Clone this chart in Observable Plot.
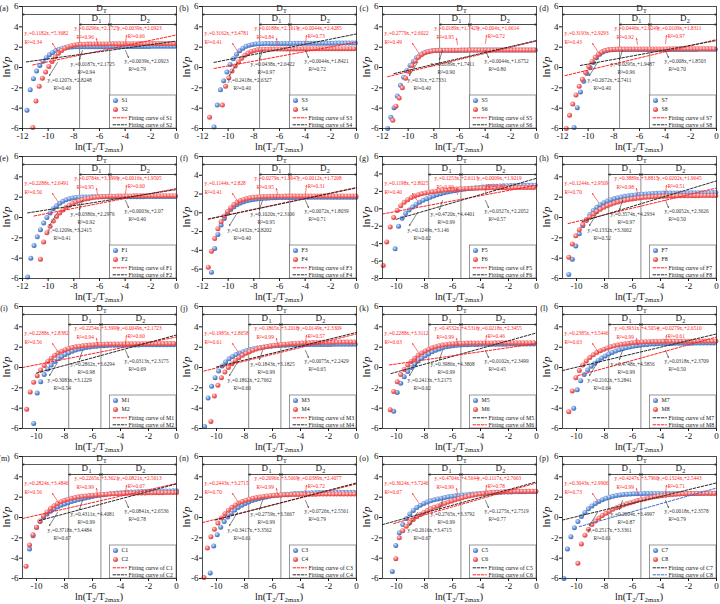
<!DOCTYPE html>
<html><head><meta charset="utf-8">
<script src="https://cdn.jsdelivr.net/npm/d3@7"></script>
<script src="https://cdn.jsdelivr.net/npm/@observablehq/plot@0.6"></script>
<style>
body{margin:0;background:#fff;}
#root{position:relative;width:720px;height:604px;overflow:hidden;background:#fff;}
.panel{position:absolute;}
.panel svg{overflow:visible;display:block;}
</style></head><body>
<svg width="0" height="0" style="position:absolute">
<defs>
<radialGradient id="gBlue" cx="0.38" cy="0.35" r="0.7"><stop offset="0" stop-color="#dbe7fb"/><stop offset="0.5" stop-color="#6b97dc"/><stop offset="1" stop-color="#3a67b3"/></radialGradient>
<radialGradient id="gRed" cx="0.38" cy="0.35" r="0.7"><stop offset="0" stop-color="#ffe0e0"/><stop offset="0.5" stop-color="#f46a6a"/><stop offset="1" stop-color="#d93b3b"/></radialGradient>
</defs></svg>
<div id="root"></div>
<script>
// ---------------- data ----------------
const panelLetters = ["a","b","c","d","e","f","g","h","i","j","k","l","m","n","o","p"];
const panelSamples = [["S1","S2"],["S3","S4"],["S5","S6"],["S7","S8"],["F1","F2"],["F3","F4"],["F5","F6"],["F7","F8"],
                      ["M1","M2"],["M3","M4"],["M5","M6"],["M7","M8"],["C1","C2"],["C3","C4"],["C5","C6"],["C7","C8"]];
const xDomains = [[-12,0],[-12,0],[-12,0],[-12,0],[-12,0],[-12,0],[-11,0],[-11,0],
                  [-11,0],[-11,0],[-11,0],[-11,0],[-11,0],[-11,0],[-11,0],[-11,0]];
const yDomains = [[-6,6],[-6,6],[-6,6],[-6,6],[-6,6],[-7,6],[-8,6],[-6,6],
                  [-6,6],[-6,6],[-6,6],[-6,6],[-6,6],[-6,6],[-6,6],[-6,6]];
const xTicks12 = [-12,-10,-8,-6,-4,-2,0];
const xTicks11 = [-10,-8,-6,-4,-2,0];
const yTicks6 = [-6,-4,-2,0,2,4,6];
const yTicks8 = [-8,-6,-4,-2,0,2,4,6];
// boundaries of D1 / D2 (ln T2 ratio)
const dBounds = [[-7.55,-5.2],[-7.55,-5.2],[-7.55,-5.2],[-7.55,-5.2],[-7.55,-5.2],[-7.55,-5.2],[-7.7,-5.4],[-7.7,-5.4],
                 [-7.7,-5.4],[-7.7,-5.4],[-7.7,-5.4],[-7.7,-5.4],[-7.7,-5.4],[-7.7,-5.4],[-7.7,-5.4],[-7.7,-5.4]];

const gridStep = 0.25; // spacing of the T2 bins on the ln axis
const sampleNames  = ["S1","S2","S3","S4","S5","S6","S7","S8","F1","F2","F3","F4","F5","F6","F7","F8",
                      "M1","M2","M3","M4","M5","M6","M7","M8","C1","C2","C3","C4","C5","C6","C7","C8"];
const sampleStartX = [-11.65,-11.2,-11.1,-11.45,-11.6,-11.2,-11.1,-11.7,-11.6,-10.6,-11.3,-11.55,-10.1,-10.95,-10.55,-10.55,
                      -10.2,-10.7,-10.85,-10.4,-10.2,-10.45,-10.2,-10.55,-10.5,-10.75,-10.45,-10.9,-10.3,-10.05,-10.9,-9.9];

const S1 = [-4.2,-2.2,-1.1,-0.35,0.2,0.62,0.97,1.25,1.48,1.66,1.8,1.9,1.96,2.0,2.02,
  2.03,2.03,2.04,2.04,2.04,2.05,2.05,2.05,2.05,2.05,2.06,2.06,2.06,2.06,2.06,2.06,2.07,2.07,2.07,2.07,2.07,2.07,2.07,2.07,2.08,2.08,2.08,2.08,2.08,2.08,2.08,2.08];
const S2 = [-5.9,-3.3,-1.85,-1.05,-0.45,0.1,0.6,1.05,1.4,1.68,1.9,2.05,2.15,2.22,2.26,
  2.28,2.29,2.3,2.3,2.31,2.31,2.32,2.32,2.32,2.33,2.33,2.33,2.33,2.34,2.34,2.34,2.34,2.34,2.35,2.35,2.35,2.35,2.35,2.35,2.36,2.36,2.36,2.36,2.36,2.36];
const S3 = [-5.85,-3.7,-2.2,-1.3,-0.45,0.3,0.85,1.3,1.65,1.9,2.08,2.2,2.27,2.31,
  2.33,2.34,2.35,2.35,2.36,2.36,2.36,2.37,2.37,2.37,2.37,2.38,2.38,2.38,2.38,2.38,2.38,2.39,2.39,2.39,2.39,2.39,2.39,2.39,2.4,2.4,2.4,2.4,2.4,2.4,2.4];
const S4 = [-4.9,null,null,null,-3.7,-1.85,-1.0,-0.35,0.15,0.55,0.9,1.2,1.42,1.58,1.68,1.74,1.78,
  1.8,1.8,1.81,1.81,1.82,1.82,1.82,1.83,1.83,1.83,1.83,1.83,1.84,1.84,1.84,1.84,1.84,1.84,1.84,1.85,1.85,1.85,1.85,1.85,1.85,1.85,1.85,1.85,1.85];
const S5 = [-6.0,-4.9,-3.95,-2.8,-1.75,-0.95,-0.3,0.2,0.6,0.95,1.2,1.4,1.52,1.6,1.65,1.68,
  1.69,1.69,1.7,1.7,1.7,1.7,1.7,1.71,1.71,1.71,1.71,1.71,1.71,1.71,1.71,1.71,1.71,1.72,1.72,1.72,1.72,1.72,1.72,1.72,1.72,1.72,1.72,1.72,1.72,1.72,1.72];
const S6 = [-5.2,-3.8,-3.0,-2.0,-1.05,-0.4,0.2,0.65,1.0,1.28,1.45,1.56,1.62,1.66,1.68,
  1.69,1.69,1.69,1.7,1.7,1.7,1.7,1.7,1.7,1.71,1.71,1.71,1.71,1.71,1.71,1.71,1.71,1.71,1.71,1.71,1.72,1.72,1.72,1.72,1.72,1.72,1.72,1.72,1.72,1.72];
const S7 = [-5.9,-3.95,-2.4,-1.35,-0.6,0.0,0.5,0.95,1.3,1.52,1.65,1.72,1.75,
  1.76,1.76,1.76,1.77,1.77,1.77,1.77,1.77,1.77,1.77,1.78,1.78,1.78,1.78,1.78,1.78,1.78,1.78,1.78,1.78,1.78,1.78,1.78,1.78,1.78,1.78,1.79,1.79,1.79,1.79,1.79,1.79];
const S8 = [-6.0,-4.7,-3.6,-2.7,-1.85,-1.15,-0.5,0.1,0.6,1.0,1.3,1.52,1.66,1.74,1.78,1.8,
  1.81,1.81,1.81,1.82,1.82,1.82,1.82,1.82,1.83,1.83,1.83,1.83,1.83,1.83,1.83,1.83,1.84,1.84,1.84,1.84,1.84,1.84,1.84,1.84,1.84,1.84,1.84,1.84,1.84,1.84,1.84];
const F1 = [-5.85,-4.0,-2.75,-1.9,-1.2,-0.55,0.0,0.45,0.85,1.15,1.4,1.6,1.75,1.85,1.92,1.97,2.0,
  2.01,2.02,2.02,2.03,2.03,2.03,2.04,2.04,2.04,2.04,2.04,2.05,2.05,2.05,2.05,2.05,2.05,2.05,2.05,2.05,2.06,2.06,2.06,2.06,2.06,2.06,2.06,2.06,2.06,2.06];
const F2 = [-4.1,-2.4,-1.5,-0.85,-0.35,0.1,0.45,0.75,1.0,1.2,1.38,1.52,1.64,1.74,1.82,1.88,1.94,1.98,2.02,2.05,2.07,2.09,
  2.1,2.1,2.11,2.11,2.12,2.12,2.12,2.13,2.13,2.13,2.13,2.14,2.14,2.14,2.14,2.14,2.15,2.15,2.15,2.15,2.15];
const F3 = [-6.33,-3.8,-2.3,-1.3,-0.6,-0.05,0.35,0.65,0.88,1.05,1.18,1.28,1.36,1.42,1.47,1.51,1.54,1.56,1.58,1.6,1.61,1.62,1.63,
  1.63,1.64,1.64,1.64,1.65,1.65,1.65,1.65,1.66,1.66,1.66,1.66,1.66,1.66,1.66,1.67,1.67,1.67,1.67,1.67,1.67,1.67,1.67];
const F4 = [-5.8,-4.1,-2.75,-1.7,-0.95,-0.35,0.15,0.55,0.88,1.12,1.3,1.43,1.53,1.6,1.65,1.69,1.72,1.74,
  1.75,1.76,1.76,1.77,1.77,1.77,1.78,1.78,1.78,1.78,1.78,1.79,1.79,1.79,1.79,1.79,1.79,1.79,1.8,1.8,1.8,1.8,1.8,1.8,1.8,1.8,1.8,1.8,1.8];
const F5 = [-4.6,-2.0,-1.1,-0.55,-0.15,0.2,0.5,0.75,0.97,1.16,1.33,1.48,1.61,1.73,1.84,1.93,2.01,2.08,2.15,2.21,2.27,2.32,2.37,2.41,2.45,
  2.49,2.52,2.55,2.58,2.6,2.62,2.64,2.65,2.66,2.67,2.68,2.69,2.69,2.7,2.7,2.7];
const F6 = [-6.5,-3.8,-2.1,-1.0,-0.2,0.35,0.75,1.05,1.3,1.48,1.62,1.73,1.82,1.9,1.96,2.02,2.07,2.12,2.16,2.2,2.23,2.26,2.29,2.31,2.33,
  2.35,2.36,2.37,2.38,2.39,2.4,2.4,2.41,2.41,2.42,2.42,2.43,2.43,2.43,2.44,2.44,2.44,2.44,2.45];
const F7 = [-5.6,-4.1,-2.8,-1.6,-0.8,-0.2,0.3,0.7,1.0,1.25,1.45,1.62,1.75,1.86,1.95,2.02,2.08,2.13,2.18,2.22,2.26,2.29,2.32,2.34,2.36,2.38,
  2.39,2.4,2.4,2.41,2.41,2.42,2.42,2.42,2.43,2.43,2.43,2.44,2.44,2.44,2.44,2.45,2.45];
const F8 = [-3.9,-2.6,-1.8,-1.2,-0.7,-0.3,0.05,0.35,0.6,0.82,1.0,1.16,1.3,1.42,1.53,1.62,1.7,1.77,1.83,1.88,1.92,1.96,1.99,2.02,2.04,
  2.06,2.08,2.09,2.1,2.11,2.12,2.13,2.13,2.14,2.14,2.15,2.15,2.15,2.16,2.16,2.16,2.16,2.16];
const M1 = [-5.5,-2.5,-1.4,-0.7,-0.15,0.25,0.58,0.85,1.08,1.28,1.45,1.6,1.72,1.82,1.9,1.97,2.02,2.06,2.1,2.13,2.15,2.17,
  2.18,2.19,2.2,2.2,2.21,2.21,2.22,2.22,2.22,2.23,2.23,2.23,2.23,2.24,2.24,2.24,2.24,2.24,2.24];
const M2 = [-4.1,-2.4,-1.45,-0.8,-0.25,0.2,0.6,0.92,1.2,1.42,1.6,1.75,1.87,1.96,2.03,2.09,2.14,2.18,2.21,2.24,2.26,2.28,
  2.29,2.3,2.31,2.31,2.32,2.32,2.33,2.33,2.33,2.34,2.34,2.34,2.34,2.35,2.35,2.35,2.35,2.35,2.35,2.35,2.35];
const M3 = [-5.8,-3.0,-1.85,-1.0,-0.35,0.15,0.55,0.85,1.08,1.27,1.43,1.56,1.67,1.76,1.84,1.91,1.97,2.02,2.06,2.1,2.13,2.16,2.18,2.2,2.22,2.23,2.24,
  2.25,2.25,2.26,2.26,2.26,2.27,2.27,2.27,2.27,2.27,2.28,2.28,2.28,2.28,2.28,2.28,2.28];
const M4 = [-5.3,-2.8,-1.75,-1.0,-0.45,0.0,0.38,0.7,0.97,1.2,1.4,1.56,1.7,1.82,1.92,2.0,2.07,2.13,2.18,2.22,2.26,2.29,2.32,2.35,2.37,
  2.39,2.41,2.42,2.44,2.45,2.46,2.47,2.48,2.48,2.49,2.49,2.5,2.5,2.5,2.51,2.51,2.51];
const M5 = [-4.3,-2.45,-1.55,-0.9,-0.4,0.0,0.35,0.65,0.92,1.15,1.36,1.54,1.7,1.83,1.94,2.03,2.1,2.15,2.19,2.22,2.24,
  2.25,2.26,2.27,2.27,2.28,2.28,2.28,2.29,2.29,2.29,2.29,2.29,2.3,2.3,2.3,2.3,2.3,2.3,2.3,2.3];
const M6 = [-4.15,-2.35,-1.4,-0.7,-0.2,0.25,0.6,0.92,1.2,1.43,1.63,1.8,1.94,2.05,2.14,2.21,2.27,2.31,2.34,2.36,2.38,
  2.39,2.4,2.4,2.41,2.41,2.42,2.42,2.42,2.42,2.43,2.43,2.43,2.43,2.43,2.43,2.44,2.44,2.44,2.44,2.44,2.44];
const M7 = [-4.0,-2.2,-1.3,-0.7,-0.25,0.12,0.43,0.7,0.93,1.14,1.32,1.48,1.62,1.74,1.85,1.94,2.02,2.09,2.15,2.2,2.24,2.27,2.3,2.32,2.34,
  2.35,2.36,2.37,2.37,2.38,2.38,2.39,2.39,2.39,2.39,2.4,2.4,2.4,2.4,2.4,2.4];
const M8 = [-4.35,-2.3,-1.0,-0.3,0.25,0.65,0.98,1.25,1.47,1.65,1.8,1.93,2.04,2.13,2.21,2.28,2.34,2.39,2.43,2.46,2.49,2.51,2.53,
  2.54,2.55,2.56,2.56,2.57,2.57,2.58,2.58,2.58,2.59,2.59,2.59,2.59,2.6,2.6,2.6,2.6,2.6,2.6,2.6];
const C1 = [-3.1,-1.8,-0.95,-0.4,0.02,0.35,0.62,0.85,1.04,1.2,1.34,1.46,1.57,1.67,1.76,1.84,1.92,1.99,2.06,2.13,2.19,2.24,2.29,2.33,2.37,
  2.4,2.43,2.46,2.48,2.5,2.52,2.53,2.55,2.56,2.57,2.58,2.59,2.6,2.6,2.61,2.61,2.62,2.62];
const C2 = [-4.8,-2.7,-1.7,-0.95,-0.35,0.15,0.55,0.88,1.15,1.37,1.55,1.69,1.8,1.89,1.97,2.03,2.08,2.12,2.16,2.19,2.22,2.25,2.27,2.29,2.31,
  2.33,2.34,2.36,2.37,2.38,2.39,2.4,2.41,2.42,2.42,2.43,2.43,2.44,2.44,2.44,2.45,2.45,2.45,2.45];
const C3 = [-5.45,-2.8,-1.7,-0.95,-0.4,0.05,0.42,0.73,0.99,1.2,1.38,1.53,1.66,1.77,1.87,1.95,2.02,2.08,2.13,2.18,2.22,2.26,2.29,2.32,2.35,
  2.37,2.39,2.41,2.42,2.43,2.44,2.45,2.46,2.46,2.47,2.47,2.48,2.48,2.48,2.48,2.49,2.49];
const C4 = [-5.9,-3.0,-1.9,-1.15,-0.55,-0.05,0.38,0.72,1.0,1.23,1.42,1.57,1.7,1.8,1.89,1.96,2.02,2.07,2.11,2.15,2.18,2.2,2.22,2.24,2.25,
  2.26,2.27,2.27,2.28,2.28,2.29,2.29,2.29,2.3,2.3,2.3,2.3,2.3,2.31,2.31,2.31,2.31,2.31,2.31];
const C5 = [-5.3,-2.75,-1.5,-0.7,-0.1,0.35,0.7,0.98,1.2,1.38,1.52,1.64,1.74,1.83,1.9,1.97,2.03,2.08,2.13,2.17,2.21,2.25,2.28,2.31,2.34,
  2.37,2.39,2.41,2.43,2.45,2.47,2.48,2.5,2.51,2.52,2.53,2.53,2.54,2.54,2.55,2.55,2.55];
const C6 = [-4.05,-2.0,-1.3,-0.85,-0.5,-0.2,0.07,0.3,0.5,0.68,0.85,1.0,1.14,1.27,1.4,1.52,1.63,1.74,1.84,1.94,2.03,2.11,2.19,2.26,2.32,
  2.37,2.41,2.45,2.48,2.5,2.52,2.54,2.55,2.56,2.57,2.57,2.58,2.58,2.58,2.59,2.59];
const C7 = [-6.0,-3.1,-1.9,-1.0,-0.4,0.1,0.5,0.85,1.14,1.38,1.58,1.75,1.89,2.0,2.09,2.16,2.22,2.26,2.29,2.31,2.33,
  2.34,2.34,2.35,2.35,2.35,2.36,2.36,2.36,2.36,2.36,2.37,2.37,2.37,2.37,2.37,2.37,2.37,2.38,2.38,2.38,2.38,2.38,2.38];
const C8 = [-4.5,-2.6,-1.75,-1.15,-0.7,-0.35,-0.05,0.2,0.42,0.62,0.8,0.96,1.1,1.23,1.35,1.46,1.56,1.66,1.75,1.83,1.91,1.98,2.04,2.1,2.15,
  2.19,2.23,2.26,2.29,2.31,2.33,2.34,2.35,2.36,2.37,2.37,2.38,2.38,2.38,2.38];
const sampleValues = [S1,S2,S3,S4,S5,S6,S7,S8,F1,F2,F3,F4,F5,F6,F7,F8,M1,M2,M3,M4,M5,M6,M7,M8,C1,C2,C3,C4,C5,C6,C7,C8];

// dashed fitting lines [xStart, yStart, xEnd, yEnd]
const fitLine1 = [[-11.2,0.25,0,3.2],[-11.1,-0.1,0,2.5],[-11.6,-0.9,0,2.6],[-11.8,-0.8,0,2.75],
  [-11.1,0.15,0,2.85],[-11.55,-0.65,0,2.7],[-11,-0.6,0,2.7],[-10.6,-0.6,0,2.9],
  [-11,0.0,0,3.0],[-10.9,-0.35,0,3.3],[-10.4,-0.6,0,3.4],[-11,-0.3,0,3.3],
  [-11,-0.1,0,3.35],[-11,-0.5,0,3.3],[-11,-0.7,0,3.5],[-11,-0.25,0,3.4]];
const fitLine2 = [[-11.7,0.55,0,2.6],[-11.1,0.5,0,3.3],[-11.1,-0.6,0,2.65],[-10.6,0.2,0,2.65],
  [-11.6,0.45,0,2.75],[-11.55,-0.68,0,2.65],[-10,-1.2,0,3.5],[-9.6,-0.4,0,3.6],
  [-10,-0.55,0,3.2],[-10,0.05,0,3.45],[-10.5,0.25,0,2.35],[-9.9,-0.8,0,3.0],
  [-9.8,-0.3,0,3.3],[-10.1,-0.25,0,3.4],[-10.2,-0.6,0,3.4],[-9.8,-0.9,0,2.9]];
const RED = "#ff2222", BLK = "#2a2a2a", BLU = "#3d6fd0";
const fitColor1 = [RED,RED,RED,RED,RED,RED,RED,RED,RED,RED,BLK,BLK,RED,RED,BLK,BLK];
const fitColor2 = [BLK,BLK,BLK,BLK,BLK,BLK,BLK,BLK,BLK,BLK,RED,RED,BLK,BLK,RED,BLU];

const eqRed = [
["y₁=0.1182x₁+5.3682","y₁=0.0296x₁+2.1725","y₂=0.0039x₂+2.0923"],
["y₁=0.3162x₁+3.4781","y₁=0.0188x₁+2.1619","y₂=0.0044x₂+2.4285"],
["y₁=0.2779x₁+2.6022","y₁=0.0189x₁+1.7429","y₂=0.004x₂+1.6614"],
["y₁=0.3193x₁+2.9293","y₁=0.0446x₁+2.0249","y₂=0.0109x₂+1.8311"],
["y₁=0.2288x₁+2.6491","y₁=0.0784x₁+3.3999","y₂=0.0016x₂+1.9505"],
["y₁=0.1144x₁+2.828","y₁=0.0279x₁+1.8647","y₂=0.0012x₂+1.7208"],
["y₁=0.1198x₁+2.8025","y₁=0.1253x₁+2.6113","y₂=0.0009x₂+1.9219"],
["y₁=0.1244x₁+2.9509","y₁=0.3889x₁+3.8815","y₂=0.0202x₂+1.9645"],
["y₁=0.2288x₁+2.8382","y₁=0.2254x₁+3.3999","y₂=0.0049x₂+2.1723"],
["y₁=0.1985x₁+2.8658","y₁=0.1865x₁+3.2018","y₂=0.0149x₂+2.3309"],
["y₁=0.2288x₁+3.3112","y₁=0.4532x₁+4.5316","y₂=0.0218x₂+2.3455"],
["y₁=0.2385x₁+3.5446","y₁=0.3931x₁+4.5054","y₂=0.0279x₂+2.6510"],
["y₁=0.2824x₁+3.4846","y₁=0.2265x₁+3.3621","y₂=0.0821x₂+2.5613"],
["y₁=0.2443x₁+3.2715","y₁=0.2696x₁+3.5669","y₂=0.0389x₂+2.4077"],
["y₁=0.3624x₁+3.7246","y₁=0.4704x₁+4.5644","y₂=0.1117x₂+2.7663"],
["y₁=0.3043x₁+2.9906","y₁=0.4247x₁+3.7960","y₂=0.1324x₂+2.5443"]];
const r2Red = [["0.34","0.96","0.66"],["0.41","0.84","0.73"],["0.49","0.95","0.72"],["0.43","0.92","0.97"],
  ["0.50","0.95","0.60"],["0.41","0.95","0.31"],["0.40","0.90","0.40"],["0.70","0.98","0.51"],
  ["0.56","0.94","0.60"],["0.61","0.99","0.57"],["0.63","0.99","0.46"],["0.63","0.99","0.61"],
  ["0.56","0.99","0.67"],["0.70","0.99","0.72"],["0.67","0.99","0.78"],["0.73","0.99","0.71"]];
const eqBlack = [
["y₁=0.1207x₁+2.8248","y₁=0.0187x₁+2.1725","y₂=0.0039x₂+2.0923"],
["y₁=0.2418x₁+2.6327","y₁=0.0438x₁+2.6422","y₂=0.0044x₂+1.8421"],
["y₁=0.31x₁+2.7331","y₁=0.0189x₁+1.7411","y₂=0.0044x₂+1.6752"],
["y₁=0.2672x₁+2.7411","y₁=0.0295x₁+1.9487","y₂=0.008x₂+1.8503"],
["y₁=0.1209x₁+3.2415","y₁=0.0386x₁+2.2976","y₂=0.0003x₂+2.07"],
["y₁=0.1432x₁+2.8202","y₁=0.1020x₁+2.3106","y₂=0.0072x₂+1.8039"],
["y₁=0.1249x₁+3.146","y₁=0.4720x₁+4.4401","y₂=0.0327x₂+2.2052"],
["y₁=0.1332x₁+3.3062","y₁=0.3574x₁+4.2934","y₂=0.0052x₂+2.3626"],
["y₁=0.3083x₁+3.1229","y₁=0.2862x₁+3.6294","y₂=0.0313x₂+2.3175"],
["y₁=0.1862x₁+2.7662","y₁=0.1843x₁+3.1825","y₂=0.0075x₂+2.2429"],
["y₁=0.2413x₁+3.2175","y₁=0.3986x₁+4.3808","y₂=0.0102x₂+2.3499"],
["y₁=0.2162x₁+3.2841","y₁=0.4748x₁+4.5856","y₂=0.0318x₂+2.3709"],
["y₁=0.3718x₁+3.4484","y₁=0.4311x₁+4.4081","y₂=0.0841x₂+2.6536"],
["y₂=0.3417x₁+3.3562","y₁=0.2759x₁+3.5667","y₂=0.0726x₂+2.5561"],
["y₁=0.2616x₁+3.4715","y₁=0.2765x₁+3.3792","y₂=0.1275x₂+2.7519"],
["y₁=0.2517x₁+3.3361","y₁=0.2004x₁+3.4997","y₂=0.0018x₂+2.3578"]];
const r2Black = [["0.40","0.94","0.79"],["0.40","0.97","0.72"],["0.40","0.90","0.80"],["0.40","0.96","0.70"],
  ["0.41","0.92","0.40"],["0.40","0.95","0.71"],["0.62","0.99","0.57"],["0.52","0.97","0.50"],
  ["0.54","0.98","0.69"],["0.60","0.99","0.65"],["0.62","0.99","0.45"],["0.64","0.99","0.50"],
  ["0.67","0.99","0.78"],["0.61","0.99","0.79"],["0.67","0.99","0.77"],["0.61","0.87","0.79"]];

// ---------------- layout (pixels inside each plot frame) ----------------
const PW = 180, ML = 22, MR = 4, MT = 6, MB = 23, FW = PW - ML - MR, FH = 122;
const annoLayout = [
  {eq:[2,27],  r2:[2,36],   tail:[36,46],  head:[30,37]},
  {eq:[52,22], r2:[54,31],  tail:[75,38],  head:[74,32]},
  {eq:[95,22], r2:[105,30], tail:[103,37], head:[104,29]},
  {eq:[25,74], r2:[31,82],  tail:[35,56],  head:[27,69]},
  {eq:[48,58], r2:[55,66],  tail:[60,44],  head:[57,53]},
  {eq:[102,55],r2:[106,63], tail:[103,44], head:[106,51]}
];
const FONT = "'Liberation Serif','Times New Roman',serif";

function seriesPoints(name) {
  const k = sampleNames.indexOf(name);
  const start = sampleStartX[k];
  return sampleValues[k]
    .map((v, j) => ({x: +(start + j * gridStep).toFixed(3), y: v}))
    .filter(d => d.y != null && d.x <= 0.05);
}

const root = document.getElementById("root");

panelLetters.forEach((L, i) => {
  const col = i % 4, row = Math.floor(i / 4);
  const [xmin, xmax] = xDomains[i];
  const [ymin, ymax] = yDomains[i];
  const H = MT + FH + MB;
  const fx = px => xmin + px / FW * (xmax - xmin);
  const fy = py => ymax - py / FH * (ymax - ymin);
  const [sa, sb] = panelSamples[i];
  const dA = seriesPoints(sa), dB = seriesPoints(sb);
  const [d1, d2] = dBounds[i];
  const yDT = fy(8), yD = fy(18);
  const midT = (xmin + xmax) / 2, mid1 = (d1 + d2) / 2, mid2 = (d2 + xmax) / 2;

  const brackets = [
    {x1: midT, x2: xmin, y: yDT}, {x1: midT, x2: xmax, y: yDT},
    {x1: mid1, x2: d1, y: yD}, {x1: mid1, x2: d2, y: yD},
    {x1: mid2, x2: d2, y: yD}, {x1: mid2, x2: xmax, y: yD}
  ];
  const dLabels = [
    {x: midT, y: fy(1.5), t: "D", s: "T"},
    {x: mid1, y: fy(11.5), t: "D", s: "1"},
    {x: mid2, y: fy(11.5), t: "D", s: "2"}
  ];

  const annos = [];
  annoLayout.forEach((lay, k) => {
    const isRed = k < 3;
    const j = k % 3;
    const eq = isRed ? eqRed[i][j] : eqBlack[i][j];
    const r2 = isRed ? r2Red[i][j] : r2Black[i][j];
    const c = isRed ? RED : "#333";
    annos.push({x: fx(lay.eq[0]), y: fy(lay.eq[1]), t: eq, c});
    annos.push({x: fx(lay.r2[0]), y: fy(lay.r2[1]), t: "R²=" + r2, c});
  });
  const arrows = annoLayout.map((lay, k) => ({
    x1: fx(lay.tail[0]), y1: fy(lay.tail[1]), x2: fx(lay.head[0]), y2: fy(lay.head[1]),
    c: k < 3 ? RED : "#333"
  }));

  const lgTop = fy(FH - 33);
  const lgY = [28, 19, 10.7, 3.7].map(p => fy(FH - p));
  const f1 = fitLine1[i], f2 = fitLine2[i];

  const chart = Plot.plot({
    width: PW, height: H,
    marginLeft: ML, marginRight: MR, marginTop: MT, marginBottom: MB,
    style: {fontFamily: FONT, fontSize: "9px", background: "transparent", overflow: "visible", color: "#111"},
    x: {domain: [xmin, xmax], ticks: xmin === -12 ? xTicks12 : xTicks11, tickSize: 3, tickPadding: 1, tickFormat: d => String(d), label: null},
    y: {domain: [ymin, ymax], ticks: ymin === -8 ? yTicks8 : yTicks6, tickSize: 3, tickPadding: 1, tickFormat: d => String(d), label: null},
    marks: [
      Plot.ruleX([d1, d2], {y1: yDT, y2: ymin, stroke: "#8c8c8c", strokeWidth: 1}),
      Plot.ruleY([yD], {x1: d1, x2: xmax, stroke: "#9a9a9a", strokeWidth: 0.6}),
      Plot.arrow(brackets, {x1: "x1", x2: "x2", y1: "y", y2: "y", headLength: 3.5, stroke: "#111", strokeWidth: 0.7}),
      Plot.text(dLabels, {x: "x", y: "y", text: "t", fontSize: 9, fill: "#111"}),
      Plot.text(dLabels, {x: "x", y: "y", text: "s", fontSize: 6.2, dx: 3.6, dy: 2.6, textAnchor: "start", fill: "#111"}),
      Plot.dot(dA, {x: "x", y: "y", r: 2.5, fill: "url(#gBlue)"}),
      Plot.dot(dB, {x: "x", y: "y", r: 2.5, fill: "url(#gRed)"}),
      Plot.line([[f1[0], f1[1]], [f1[2], f1[3]]], {stroke: fitColor1[i], strokeWidth: 1, strokeDasharray: "2.6,1.6"}),
      Plot.line([[f2[0], f2[1]], [f2[2], f2[3]]], {stroke: fitColor2[i], strokeWidth: 1, strokeDasharray: "2.6,1.6"}),
      Plot.arrow(arrows, {x1: "x1", y1: "y1", x2: "x2", y2: "y2", stroke: "c", headLength: 2.4, strokeWidth: 0.6}),
      Plot.text(annos, {x: "x", y: "y", text: "t", fill: "c", textAnchor: "start", fontSize: 5.3}),
      Plot.rect([0], {x1: fx(87.5), x2: xmax, y1: ymin, y2: lgTop, fill: "white", stroke: "#555", strokeWidth: 0.6}),
      Plot.dot([0], {x: fx(93), y: lgY[0], r: 2.5, fill: "url(#gBlue)"}),
      Plot.dot([0], {x: fx(93), y: lgY[1], r: 2.5, fill: "url(#gRed)"}),
      Plot.line([[fx(90.5), lgY[2]], [fx(104), lgY[2]]], {stroke: fitColor1[i], strokeWidth: 1, strokeDasharray: "2.6,1.6"}),
      Plot.line([[fx(90.5), lgY[3]], [fx(104), lgY[3]]], {stroke: fitColor2[i], strokeWidth: 1, strokeDasharray: "2.6,1.6"}),
      Plot.text([sa, sb], {x: fx(99), y: (d, k) => lgY[k], text: d => d, textAnchor: "start", fontSize: 5.8, fill: "#111"}),
      Plot.text([sa, sb], {x: fx(106), y: (d, k) => lgY[k + 2], text: d => "Fitting curve of " + d, textAnchor: "start", fontSize: 5.8, fill: "#111"}),
      Plot.frame({stroke: "#222", strokeWidth: 0.8})
    ]
  });

  const svg = d3.select(chart);
  svg.append("text").attr("x", 4).attr("y", 10.5).attr("font-size", 8).attr("fill", "#111").text(`(${L})`);
  const xt = svg.append("text").attr("x", ML + FW / 2).attr("y", MT + FH + 21.5)
    .attr("text-anchor", "middle").attr("font-size", 10).attr("fill", "#111");
  xt.append("tspan").text("ln(T");
  xt.append("tspan").attr("font-size", 6.8).attr("dy", 2.3).text("2");
  xt.append("tspan").attr("dy", -2.3).text("/T");
  xt.append("tspan").attr("font-size", 6.8).attr("dy", 2.3).text("2max");
  xt.append("tspan").attr("dy", -2.3).text(")");
  const yt = svg.append("text").attr("transform", `translate(9.5,${MT + FH / 2}) rotate(-90)`)
    .attr("text-anchor", "middle").attr("font-size", 11).attr("fill", "#111");
  yt.append("tspan").text("ln");
  yt.append("tspan").attr("font-style", "italic").text("Vp");

  const div = document.createElement("div");
  div.className = "panel";
  div.style.left = (col * 180) + "px";
  div.style.top = (row * 150) + "px";
  div.appendChild(chart);
  root.appendChild(div);
});
</script>
</body></html>
